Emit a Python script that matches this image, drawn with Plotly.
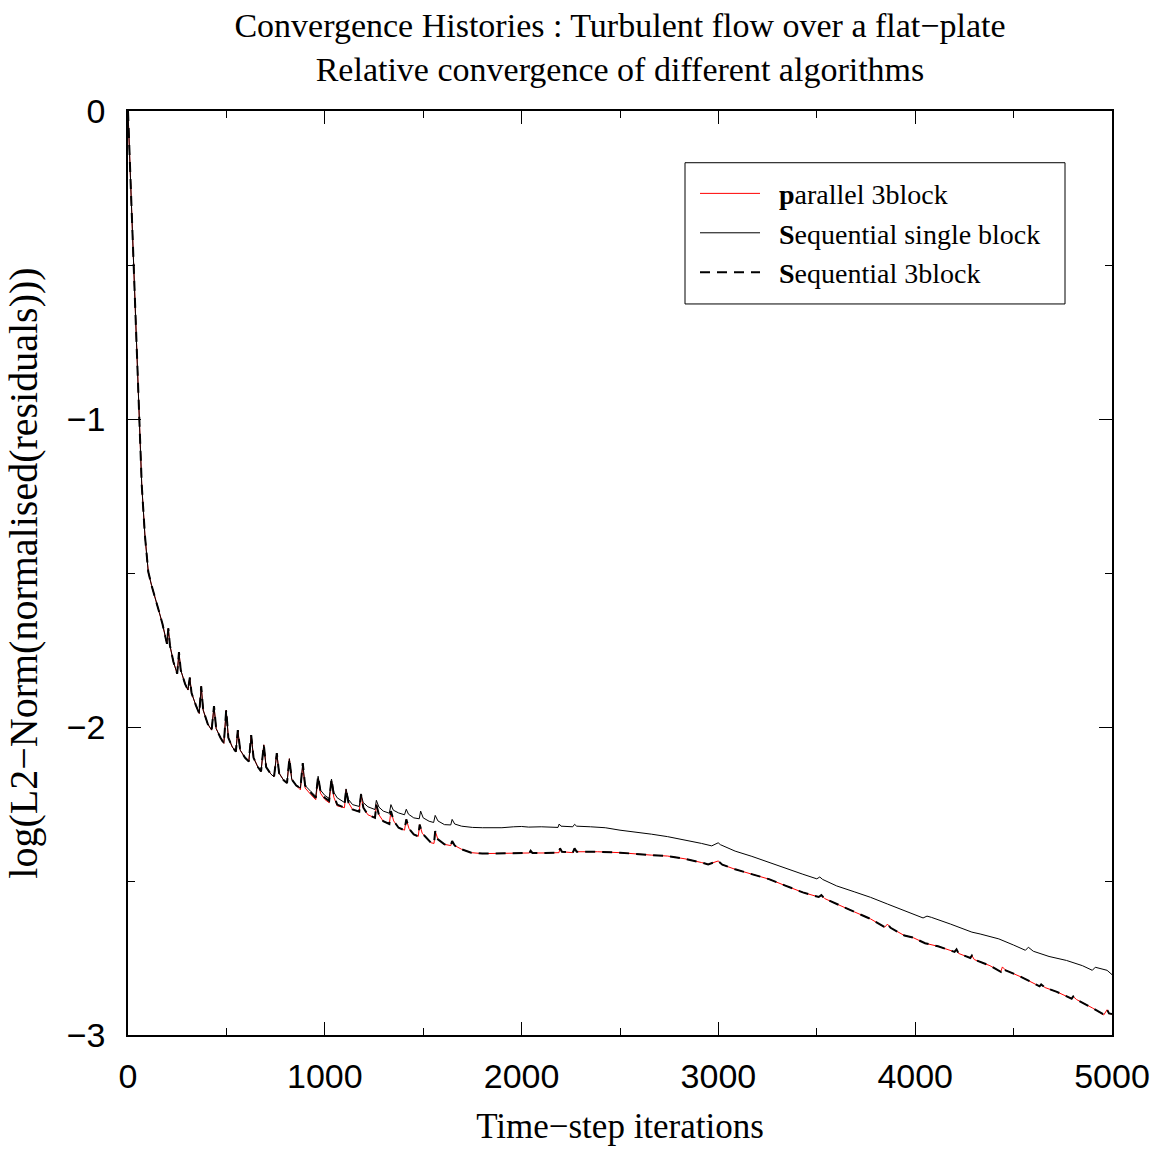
import plotly.graph_objects as go

# ---- data ----
# shared early part (all three runs coincide)
iter_early = [0, 30, 57, 70, 86, 103, 120, 140, 159, 175, 190, 198, 205, 213, 231, 250, 259, 268,
              290, 305, 314, 323, 345, 362, 372, 382, 405, 425, 437, 448, 470, 487, 499, 510, 530,
              548, 558, 570, 595, 614, 626, 638, 660, 676, 690, 702, 725, 742, 756, 768, 790, 808,
              820, 832, 855]
resid_early = [0.0, -0.50, -1.00, -1.216, -1.378, -1.496, -1.541, -1.590, -1.628, -1.665, -1.705,
               -1.730, -1.680, -1.735, -1.789, -1.827, -1.757, -1.815, -1.860, -1.880, -1.840,
               -1.890, -1.930, -1.956, -1.868, -1.945, -1.990, -2.010, -1.932, -2.005, -2.035,
               -2.053, -1.945, -2.035, -2.065, -2.080, -2.010, -2.075, -2.100, -2.112, -2.026,
               -2.100, -2.130, -2.144, -2.058, -2.130, -2.152, -2.162, -2.085, -2.150, -2.172,
               -2.182, -2.103, -2.170, -2.190]

# Sequential single block (after the runs separate)
iter_single = [876, 888, 900, 930, 954, 966, 978, 1000, 1022, 1034, 1046, 1063, 1100, 1108, 1120,
               1141, 1175, 1184, 1195, 1219, 1255, 1262, 1275, 1297, 1328, 1336, 1348, 1375, 1405,
               1414, 1425, 1452, 1480, 1487, 1500, 1530, 1553, 1561, 1575, 1608, 1640, 1647, 1660,
               1695, 1750, 1802, 1900, 1960, 2000, 2036, 2100, 2185, 2191, 2200, 2260, 2269, 2280,
               2350, 2425, 2500, 2580, 2660, 2742, 2830, 2914, 2966, 2985, 2999, 3010, 3085, 3170,
               3257, 3340, 3429, 3500, 3515, 3530, 3601, 3690, 3773, 3860, 3945, 4040, 4060, 4082,
               4180, 4288, 4330, 4425, 4500, 4560, 4575, 4600, 4680, 4769, 4850, 4900, 4915, 4950,
               4975, 5000]
resid_single = [-2.198, -2.117, -2.190, -2.210, -2.225, -2.160, -2.205, -2.222, -2.232, -2.169,
                -2.212, -2.230, -2.245, -2.201, -2.235, -2.252, -2.258, -2.217, -2.245, -2.259,
                -2.268, -2.238, -2.260, -2.273, -2.280, -2.252, -2.270, -2.279, -2.285, -2.267,
                -2.283, -2.295, -2.298, -2.273, -2.295, -2.306, -2.310, -2.287, -2.305, -2.317,
                -2.318, -2.300, -2.315, -2.322, -2.326, -2.327, -2.327, -2.324, -2.323, -2.325,
                -2.324, -2.326, -2.315, -2.322, -2.324, -2.316, -2.322, -2.324, -2.327, -2.335,
                -2.341, -2.348, -2.356, -2.366, -2.378, -2.386, -2.380, -2.376, -2.382, -2.403,
                -2.420, -2.440, -2.458, -2.478, -2.493, -2.487, -2.495, -2.516, -2.535, -2.553,
                -2.575, -2.596, -2.620, -2.614, -2.618, -2.640, -2.666, -2.672, -2.688, -2.708,
                -2.725, -2.715, -2.728, -2.745, -2.758, -2.775, -2.790, -2.780, -2.785, -2.790,
                -2.804]

# 3-block runs (parallel and sequential) after the split
iter_3block = [876, 888, 900, 930, 954, 966, 978, 1000, 1022, 1034, 1046, 1063, 1100, 1108, 1120,
               1141, 1175, 1184, 1196, 1219, 1255, 1262, 1275, 1297, 1328, 1336, 1350, 1375, 1405,
               1414, 1428, 1452, 1475, 1482, 1495, 1540, 1555, 1561, 1575, 1608, 1640, 1647, 1660,
               1695, 1744, 1800, 1919, 2040, 2046, 2055, 2120, 2190, 2195, 2205, 2260, 2269, 2280,
               2386, 2500, 2580, 2660, 2742, 2830, 2914, 2948, 2999, 3020, 3085, 3170, 3257, 3340,
               3429, 3510, 3523, 3540, 3601, 3690, 3773, 3845, 3859, 3875, 3945, 3990, 4050, 4116,
               4200, 4210, 4220, 4280, 4288, 4300, 4380, 4435, 4443, 4460, 4540, 4632, 4640, 4660,
               4720, 4795, 4803, 4820, 4900, 4958, 4975, 4985, 5000]
resid_parallel = [-2.204, -2.125, -2.198, -2.220, -2.236, -2.168, -2.215, -2.235, -2.246, -2.175,
                  -2.228, -2.256, -2.262, -2.203, -2.245, -2.268, -2.275, -2.219, -2.262, -2.285,
                  -2.295, -2.252, -2.285, -2.306, -2.315, -2.273, -2.305, -2.327, -2.335, -2.300,
                  -2.330, -2.349, -2.355, -2.317, -2.345, -2.376, -2.378, -2.338, -2.365, -2.381,
                  -2.385, -2.370, -2.385, -2.397, -2.408, -2.411, -2.411, -2.409, -2.402, -2.409,
                  -2.409, -2.408, -2.394, -2.405, -2.408, -2.394, -2.405, -2.405, -2.408, -2.413,
                  -2.416, -2.419, -2.428, -2.440, -2.446, -2.435, -2.447, -2.462, -2.478, -2.494,
                  -2.515, -2.537, -2.552, -2.546, -2.557, -2.575, -2.600, -2.623, -2.650, -2.640,
                  -2.652, -2.677, -2.684, -2.702, -2.712, -2.730, -2.722, -2.735, -2.750, -2.742,
                  -2.755, -2.775, -2.795, -2.779, -2.790, -2.812, -2.842, -2.836, -2.846, -2.860,
                  -2.882, -2.875, -2.885, -2.912, -2.935, -2.918, -2.930, -2.932]
resid_seq3 = [-2.198, -2.117, -2.190, -2.214, -2.230, -2.160, -2.209, -2.230, -2.240, -2.169,
              -2.222, -2.252, -2.262, -2.203, -2.245, -2.268, -2.275, -2.219, -2.262, -2.285,
              -2.295, -2.252, -2.285, -2.306, -2.315, -2.273, -2.305, -2.327, -2.335, -2.300,
              -2.330, -2.349, -2.355, -2.317, -2.345, -2.376, -2.378, -2.338, -2.365, -2.381,
              -2.385, -2.370, -2.385, -2.397, -2.408, -2.411, -2.411, -2.409, -2.402, -2.409,
              -2.409, -2.408, -2.394, -2.405, -2.408, -2.394, -2.405, -2.405, -2.408, -2.413,
              -2.416, -2.419, -2.428, -2.440, -2.446, -2.435, -2.447, -2.462, -2.478, -2.494,
              -2.515, -2.537, -2.552, -2.546, -2.557, -2.575, -2.600, -2.623, -2.650, -2.640,
              -2.652, -2.677, -2.684, -2.702, -2.712, -2.730, -2.722, -2.735, -2.750, -2.742,
              -2.755, -2.775, -2.795, -2.782, -2.790, -2.812, -2.842, -2.836, -2.846, -2.860,
              -2.882, -2.875, -2.885, -2.912, -2.933, -2.918, -2.930, -2.932]

x_ticks = [0, 1000, 2000, 3000, 4000, 5000]
x_ticklabels = ["0", "1000", "2000", "3000", "4000", "5000"]
y_ticks = [-3, -2, -1, 0]
y_ticklabels = ["\u22123", "\u22122", "\u22121", "0"]

series_names = ["<b>p</b>arallel 3block", "<b>S</b>equential single block", "<b>S</b>equential 3block"]

SERIF = "Liberation Serif, Times New Roman, serif"
SANS = "Liberation Sans, Arial, sans-serif"
PAD = "\u00a0\u00a0"  # small gap between legend sample line and label

fig = go.Figure()
fig.add_trace(go.Scatter(x=iter_early + iter_3block, y=resid_early + resid_parallel,
                         mode="lines", name=PAD + series_names[0],
                         line=dict(color="#ff0000", width=1)))
fig.add_trace(go.Scatter(x=iter_early + iter_single, y=resid_early + resid_single,
                         mode="lines", name=PAD + series_names[1],
                         line=dict(color="#000000", width=1)))
fig.add_trace(go.Scatter(x=iter_early + iter_3block, y=resid_early + resid_seq3,
                         mode="lines", name=PAD + series_names[2],
                         line=dict(color="#000000", width=2, dash="10px,7px")))

axis_common = dict(
    showgrid=False, zeroline=False, showline=True, linecolor="black", linewidth=1.5,
    mirror="ticks", ticks="inside", ticklen=13, tickwidth=1, tickcolor="black",
    tickfont=dict(family=SANS, size=34, color="black"),
)

fig.update_xaxes(**axis_common, range=[0, 5000], tickvals=x_ticks, ticktext=x_ticklabels,
                 minor=dict(ticks="inside", ticklen=7, tickwidth=1, tickcolor="black", dtick=500),
                 ticklabelstandoff=10,
                 title=dict(text="Time\u2212step iterations", standoff=20,
                            font=dict(family=SERIF, size=35, color="black")))
fig.update_yaxes(**axis_common, range=[-3, 0], tickvals=y_ticks, ticktext=y_ticklabels,
                 minor=dict(ticks="inside", ticklen=7, tickwidth=1, tickcolor="black", dtick=0.5),
                 ticklabelstandoff=14,
                 title=dict(text="log(L2\u2212Norm(normalised(residuals)))", standoff=17,
                            font=dict(family=SERIF, size=40, color="black")))

# legend frame (a decoration around the legend, in paper coordinates)
PLOT_L, PLOT_R, PLOT_T, PLOT_B = 128, 1112, 111, 1040
def px_to_paper_x(px):
    return (px - PLOT_L) / (PLOT_R - PLOT_L)
def px_to_paper_y(py):
    return (PLOT_B - py) / (PLOT_B - PLOT_T)

fig.add_shape(type="rect", xref="paper", yref="paper",
              x0=px_to_paper_x(685), x1=px_to_paper_x(1065),
              y0=px_to_paper_y(305), y1=px_to_paper_y(163),
              line=dict(color="black", width=1), fillcolor="white", layer="below")

fig.update_layout(
    width=1165, height=1151,
    margin=dict(l=PLOT_L, r=1165 - PLOT_R, t=PLOT_T, b=1151 - PLOT_B),
    plot_bgcolor="white", paper_bgcolor="white",
    title=dict(text="Convergence Histories : Turbulent flow over a flat\u2212plate<br>"
                    "Relative convergence of different algorithms",
               x=(PLOT_L + PLOT_R) / 2 / 1165, xanchor="center",
               y=1 - 37 / 1151, yanchor="middle",
               font=dict(family=SERIF, size=34, color="black")),
    legend=dict(x=px_to_paper_x(695), y=px_to_paper_y(169), xanchor="left", yanchor="top",
                bgcolor="rgba(0,0,0,0)", borderwidth=0,
                font=dict(family=SERIF, size=28, color="black"),
                itemwidth=60, tracegroupgap=4),
    showlegend=True,
)

fig.write_html("out.html")
